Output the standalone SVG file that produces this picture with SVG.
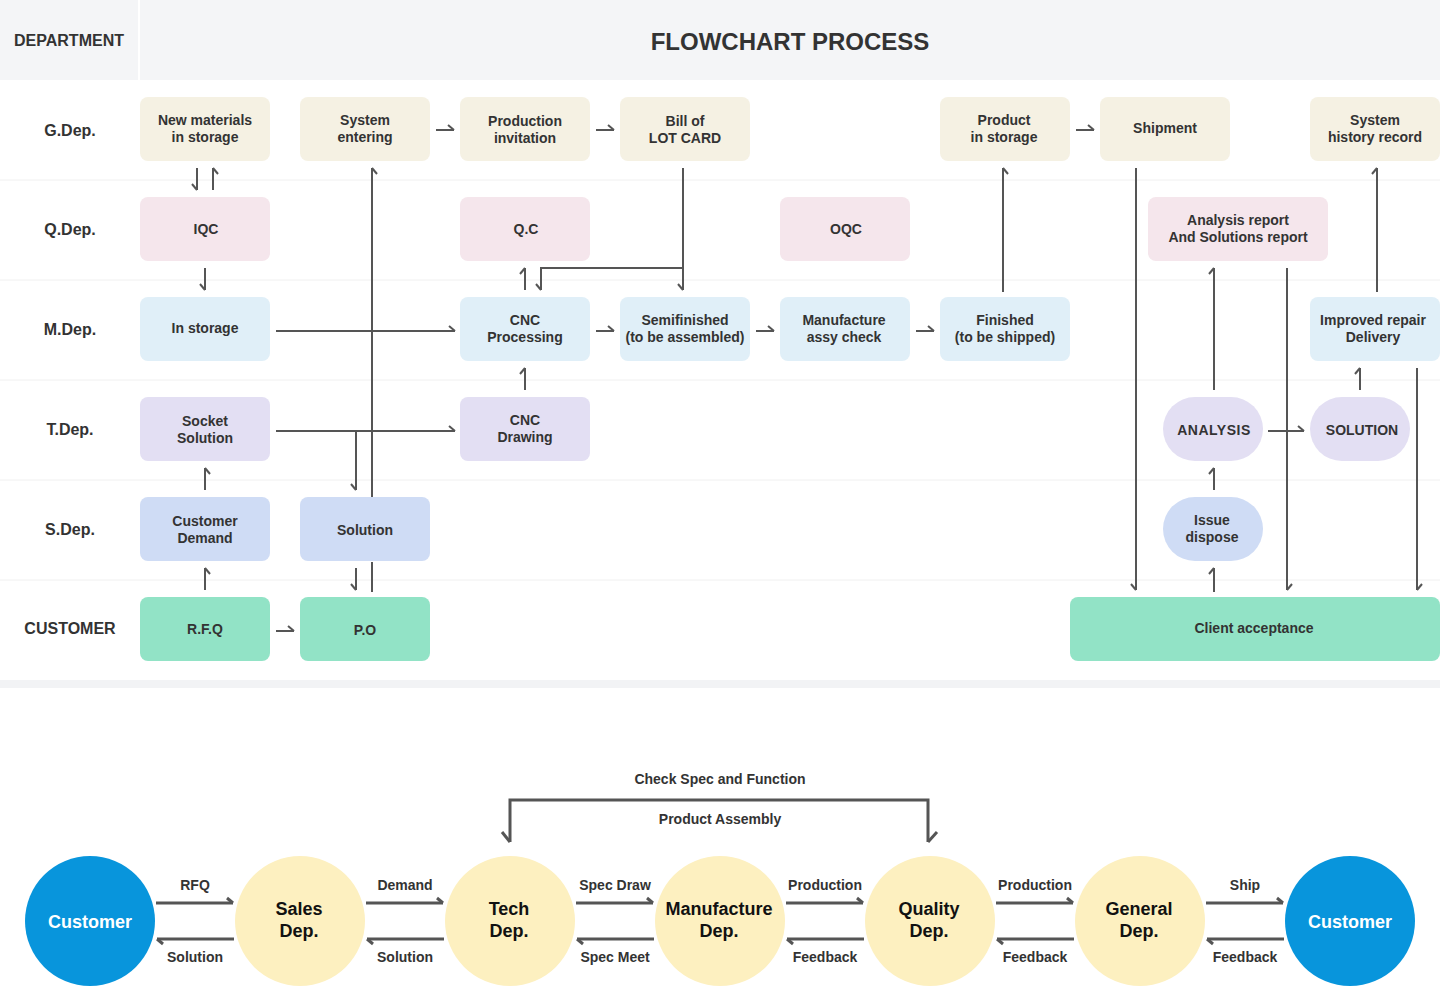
<svg xmlns="http://www.w3.org/2000/svg" width="1440" height="986" viewBox="0 0 1440 986">
<style>
text{font-family:"Liberation Sans",Arial,sans-serif;fill:#333;text-anchor:middle;dominant-baseline:central}
.hdr{font-size:16px;font-weight:bold}
.ttl{font-size:24px;font-weight:bold}
.row{font-size:16px;font-weight:bold}
.nt{font-size:14px;font-weight:bold}
.g{fill:#f5f1e3}.q{fill:#f5e6ec}.m{fill:#e0eff8}.t{fill:#e3dff3}.s{fill:#cfdcf5}.c{fill:#92e3c6}
.sep{stroke:#f0f0f0;stroke-width:1}
.ln{fill:none;stroke:#555;stroke-width:2}
.lh{fill:none;stroke:#555;stroke-width:2;marker-end:url(#ah)}
.lv{fill:none;stroke:#555;stroke-width:2;marker-end:url(#av)}
.lw{fill:none;stroke:#555;stroke-width:2;marker-end:url(#ah)}
.bl{fill:none;stroke:#555;stroke-width:3;marker-end:url(#bh)}
.blue{fill:#0895dc}.yel{fill:#fdf0c0}
.cw{font-size:18px;font-weight:bold;fill:#fff}
.cd{font-size:18px;font-weight:bold;fill:#111}
.lb{font-size:14px;font-weight:bold}
</style>
<defs>
<marker id="ah" markerUnits="userSpaceOnUse" viewBox="-10 -10 20 20" markerWidth="20" markerHeight="20" refX="0" refY="0" orient="auto" overflow="visible"><path d="M-6,-5 L0,0" fill="none" stroke="#555" stroke-width="2"/></marker>
<marker id="av" markerUnits="userSpaceOnUse" viewBox="-10 -10 20 20" markerWidth="20" markerHeight="20" refX="0" refY="0" orient="auto" overflow="visible"><path d="M-6,5 L0,0" fill="none" stroke="#555" stroke-width="2"/></marker>
<marker id="bh" markerUnits="userSpaceOnUse" viewBox="-10 -10 20 20" markerWidth="20" markerHeight="20" refX="0" refY="0" orient="auto" overflow="visible"><path d="M-6,-5 L0,0" fill="none" stroke="#555" stroke-width="3"/></marker>
</defs>
<rect x="0" y="0" width="1440" height="986" fill="#fff"/>
<g id="header">
<rect x="0" y="0" width="138" height="80" fill="#f4f5f7"/>
<rect x="140" y="0" width="1300" height="80" fill="#f4f5f7"/>
<text class="hdr" x="69" y="40">DEPARTMENT</text>
<text class="ttl" x="790" y="41">FLOWCHART PROCESS</text>
</g>
<g id="rows">
<line class="sep" x1="0" y1="180" x2="1440" y2="180"/>
<line class="sep" x1="0" y1="280" x2="1440" y2="280"/>
<line class="sep" x1="0" y1="380" x2="1440" y2="380"/>
<line class="sep" x1="0" y1="480" x2="1440" y2="480"/>
<line class="sep" x1="0" y1="580" x2="1440" y2="580"/>
<rect x="0" y="680" width="1440" height="8" fill="#f2f3f5"/>
<text class="row" x="70" y="130">G.Dep.</text>
<text class="row" x="70" y="229">Q.Dep.</text>
<text class="row" x="70" y="329">M.Dep.</text>
<text class="row" x="70" y="429">T.Dep.</text>
<text class="row" x="70" y="529">S.Dep.</text>
<text class="row" x="70" y="628">CUSTOMER</text>
</g>
<g id="connectors">
<path class="lv" d="M197,168 V190"/>
<path class="lv" d="M213,190 V168"/>
<path class="lv" d="M205,268 V290"/>
<path class="lh" d="M276,331 H455"/>
<path class="lh" d="M276,431 H455"/>
<path class="lv" d="M372,497 V168"/>
<path class="ln" d="M372,562 V592"/>
<path class="lv" d="M356,431 V490"/>
<path class="lv" d="M356,568 V590"/>
<path class="lv" d="M205,590 V568"/>
<path class="lv" d="M205,490 V468"/>
<path class="lh" d="M276,631 H294"/>
<path class="lh" d="M436,130 H454"/>
<path class="lh" d="M596,130 H614"/>
<path class="lv" d="M683,168 V290"/>
<path class="lv" d="M683,268 H541 V290"/>
<path class="lw" d="M525,290 V268"/>
<path class="lw" d="M525,390 V368"/>
<path class="lh" d="M596,331 H614"/>
<path class="lh" d="M756,331 H774"/>
<path class="lh" d="M916,331 H934"/>
<path class="lv" d="M1003,292 V168"/>
<path class="lh" d="M1076,130 H1094"/>
<path class="lv" d="M1136,168 V590"/>
<path class="lw" d="M1214,592 V568"/>
<path class="lw" d="M1214,490 V468"/>
<path class="lw" d="M1214,390 V268"/>
<path class="lw" d="M1287,268 V590"/>
<path class="lh" d="M1268,431 H1304"/>
<path class="lw" d="M1360,390 V368"/>
<path class="lw" d="M1377,292 V168"/>
<path class="lw" d="M1417,368 V590"/>
<path class="bl" d="M156,903 H233"/>
<path class="bl" d="M234,939 H157"/>
<path class="bl" d="M366,903 H443"/>
<path class="bl" d="M444,939 H367"/>
<path class="bl" d="M576,903 H653"/>
<path class="bl" d="M654,939 H577"/>
<path class="bl" d="M786,903 H863"/>
<path class="bl" d="M864,939 H787"/>
<path class="bl" d="M996,903 H1073"/>
<path class="bl" d="M1074,939 H997"/>
<path class="bl" d="M1206,903 H1283"/>
<path class="bl" d="M1284,939 H1207"/>
<path d="M510,842 V800 H928 V842" fill="none" stroke="#555" stroke-width="3"/>
<path d="M502,832 L510,842" fill="none" stroke="#555" stroke-width="3"/>
<path d="M937,832 L928,842" fill="none" stroke="#555" stroke-width="3"/>
</g>
<g id="n-newmat"><rect class="g" x="140" y="97" width="130" height="64" rx="8"/><text class="nt" x="205" y="120">New materials</text><text class="nt" x="205" y="137">in storage</text></g>
<g id="n-sysent"><rect class="g" x="300" y="97" width="130" height="64" rx="8"/><text class="nt" x="365" y="120">System</text><text class="nt" x="365" y="137">entering</text></g>
<g id="n-prodinv"><rect class="g" x="460" y="97" width="130" height="64" rx="8"/><text class="nt" x="525" y="121">Production</text><text class="nt" x="525" y="138">invitation</text></g>
<g id="n-bill"><rect class="g" x="620" y="97" width="130" height="64" rx="8"/><text class="nt" x="685" y="121">Bill of</text><text class="nt" x="685" y="138">LOT CARD</text></g>
<g id="n-pstore"><rect class="g" x="940" y="97" width="130" height="64" rx="8"/><text class="nt" x="1004" y="120">Product</text><text class="nt" x="1004" y="137">in storage</text></g>
<g id="n-ship"><rect class="g" x="1100" y="97" width="130" height="64" rx="8"/><text class="nt" x="1165" y="128">Shipment</text></g>
<g id="n-hist"><rect class="g" x="1310" y="97" width="130" height="64" rx="8"/><text class="nt" x="1375" y="120">System</text><text class="nt" x="1375" y="137">history record</text></g>
<g id="n-iqc"><rect class="q" x="140" y="197" width="130" height="64" rx="8"/><text class="nt" x="206" y="229">IQC</text></g>
<g id="n-qc"><rect class="q" x="460" y="197" width="130" height="64" rx="8"/><text class="nt" x="526" y="229">Q.C</text></g>
<g id="n-oqc"><rect class="q" x="780" y="197" width="130" height="64" rx="8"/><text class="nt" x="846" y="229">OQC</text></g>
<g id="n-report"><rect class="q" x="1148" y="197" width="180" height="64" rx="8"/><text class="nt" x="1238" y="220">Analysis report</text><text class="nt" x="1238" y="237">And Solutions report</text></g>
<g id="n-instore"><rect class="m" x="140" y="297" width="130" height="64" rx="8"/><text class="nt" x="205" y="328">In storage</text></g>
<g id="n-cncproc"><rect class="m" x="460" y="297" width="130" height="64" rx="8"/><text class="nt" x="525" y="320">CNC</text><text class="nt" x="525" y="337">Processing</text></g>
<g id="n-semi"><rect class="m" x="620" y="297" width="130" height="64" rx="8"/><text class="nt" x="685" y="320">Semifinished</text><text class="nt" x="685" y="337">(to be assembled)</text></g>
<g id="n-assy"><rect class="m" x="780" y="297" width="130" height="64" rx="8"/><text class="nt" x="844" y="320">Manufacture</text><text class="nt" x="844" y="337">assy check</text></g>
<g id="n-finished"><rect class="m" x="940" y="297" width="130" height="64" rx="8"/><text class="nt" x="1005" y="320">Finished</text><text class="nt" x="1005" y="337">(to be shipped)</text></g>
<g id="n-improved"><rect class="m" x="1310" y="297" width="130" height="64" rx="8"/><text class="nt" x="1373" y="320">Improved repair</text><text class="nt" x="1373" y="337">Delivery</text></g>
<g id="n-socket"><rect class="t" x="140" y="397" width="130" height="64" rx="8"/><text class="nt" x="205" y="421">Socket</text><text class="nt" x="205" y="438">Solution</text></g>
<g id="n-cncdraw"><rect class="t" x="460" y="397" width="130" height="64" rx="8"/><text class="nt" x="525" y="420">CNC</text><text class="nt" x="525" y="437">Drawing</text></g>
<g id="n-analysis"><rect class="t" x="1163" y="397" width="100" height="64" rx="32"/><text class="nt" x="1214" y="430" letter-spacing="0.5">ANALYSIS</text></g>
<g id="n-solution2"><rect class="t" x="1310" y="397" width="100" height="64" rx="32"/><text class="nt" x="1362" y="430">SOLUTION</text></g>
<g id="n-demand"><rect class="s" x="140" y="497" width="130" height="64" rx="8"/><text class="nt" x="205" y="521">Customer</text><text class="nt" x="205" y="538">Demand</text></g>
<g id="n-solution"><rect class="s" x="300" y="497" width="130" height="64" rx="8"/><text class="nt" x="365" y="530">Solution</text></g>
<g id="n-issue"><rect class="s" x="1163" y="497" width="100" height="64" rx="32"/><text class="nt" x="1212" y="520">Issue</text><text class="nt" x="1212" y="537">dispose</text></g>
<g id="n-rfq"><rect class="c" x="140" y="597" width="130" height="64" rx="8"/><text class="nt" x="205" y="629">R.F.Q</text></g>
<g id="n-po"><rect class="c" x="300" y="597" width="130" height="64" rx="8"/><text class="nt" x="365" y="630">P.O</text></g>
<g id="n-client"><rect class="c" x="1070" y="597" width="370" height="64" rx="8"/><text class="nt" x="1254" y="628">Client acceptance</text></g>
<g id="b-customer1"><circle class="blue" cx="90" cy="921" r="65"/><text class="cw" x="90" y="922">Customer</text></g>
<g id="b-sales"><circle class="yel" cx="300" cy="921" r="65"/><text class="cd" x="299" y="909">Sales</text><text class="cd" x="299" y="931">Dep.</text></g>
<g id="b-tech"><circle class="yel" cx="510" cy="921" r="65"/><text class="cd" x="509" y="909">Tech</text><text class="cd" x="509" y="931">Dep.</text></g>
<g id="b-manu"><circle class="yel" cx="720" cy="921" r="65"/><text class="cd" x="719" y="909">Manufacture</text><text class="cd" x="719" y="931">Dep.</text></g>
<g id="b-quality"><circle class="yel" cx="930" cy="921" r="65"/><text class="cd" x="929" y="909">Quality</text><text class="cd" x="929" y="931">Dep.</text></g>
<g id="b-general"><circle class="yel" cx="1140" cy="921" r="65"/><text class="cd" x="1139" y="909">General</text><text class="cd" x="1139" y="931">Dep.</text></g>
<g id="b-customer2"><circle class="blue" cx="1350" cy="921" r="65"/><text class="cw" x="1350" y="922">Customer</text></g>
<g id="labels">
<text class="lb" x="195" y="885">RFQ</text><text class="lb" x="195" y="957">Solution</text>
<text class="lb" x="405" y="885">Demand</text><text class="lb" x="405" y="957">Solution</text>
<text class="lb" x="615" y="885">Spec Draw</text><text class="lb" x="615" y="957">Spec Meet</text>
<text class="lb" x="825" y="885">Production</text><text class="lb" x="825" y="957">Feedback</text>
<text class="lb" x="1035" y="885">Production</text><text class="lb" x="1035" y="957">Feedback</text>
<text class="lb" x="1245" y="885">Ship</text><text class="lb" x="1245" y="957">Feedback</text>
<text class="lb" x="720" y="779">Check Spec and Function</text>
<text class="lb" x="720" y="819">Product Assembly</text>
</g>
</svg>
